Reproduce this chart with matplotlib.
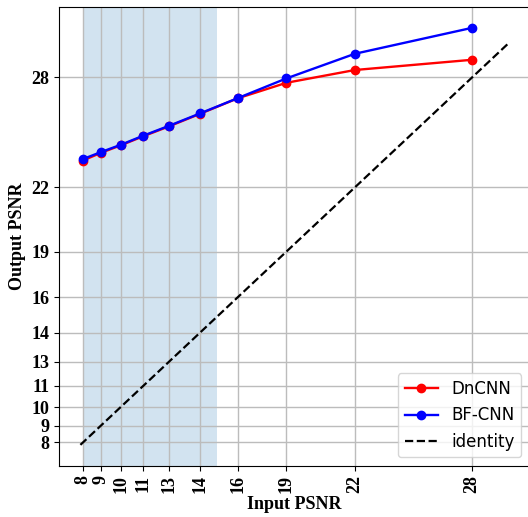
import matplotlib
matplotlib.use("Agg")
import matplotlib.pyplot as plt

# Data (input PSNR levels, actual values; labels rounded)
input_psnr = [8.13, 9.05, 10.07, 11.23, 12.55, 14.15, 16.09, 18.59, 22.11, 28.13]
tick_labels = ['8', '9', '10', '11', '13', '14', '16', '19', '22', '28']
dncnn = [23.58, 24.00, 24.41, 24.91, 25.45, 26.14, 26.99, 27.84, 28.54, 29.10]
bfcnn = [23.66, 24.04, 24.44, 24.94, 25.48, 26.16, 27.00, 28.08, 29.43, 30.85]
identity = [8.0, 30.0]
shade_range = [8.13, 15.0]

fig = plt.figure(figsize=(5.28, 5.17), dpi=100)
ax = fig.add_axes([59/528, (517-465.7)/517, (529.8-59)/528, (465.7-7)/517])

ax.axvspan(shade_range[0], shade_range[1], color='C0', alpha=0.2, lw=0, zorder=0)
ax.plot(input_psnr, dncnn, 'r-o', lw=1.7, ms=6, label='DnCNN', zorder=3)
ax.plot(input_psnr, bfcnn, 'b-o', lw=1.7, ms=6, label='BF-CNN', zorder=4)
ax.plot(identity, identity, 'k--', lw=1.6, label='identity', zorder=2)

ax.set_xticks(input_psnr)
ax.set_xticklabels(tick_labels, rotation=90)
ax.set_yticks(input_psnr)
ax.set_yticklabels(tick_labels)
serif = ['Liberation Serif', 'DejaVu Serif']
for lab in ax.get_xticklabels() + ax.get_yticklabels():
    lab.set_fontfamily(serif)
    lab.set_fontweight('bold')
    lab.set_fontsize(13)

ax.grid(True, color='#bcbcbc', lw=1.0)
ax.set_axisbelow(True)
ax.set_xlabel('Input PSNR', fontfamily=serif, fontweight='bold', fontsize=13, labelpad=2)
ax.set_ylabel('Output PSNR', fontfamily=serif, fontweight='bold', fontsize=13, labelpad=4)
ax.legend(loc='lower right', fontsize=12)

fig.savefig('out.png', dpi=100)
